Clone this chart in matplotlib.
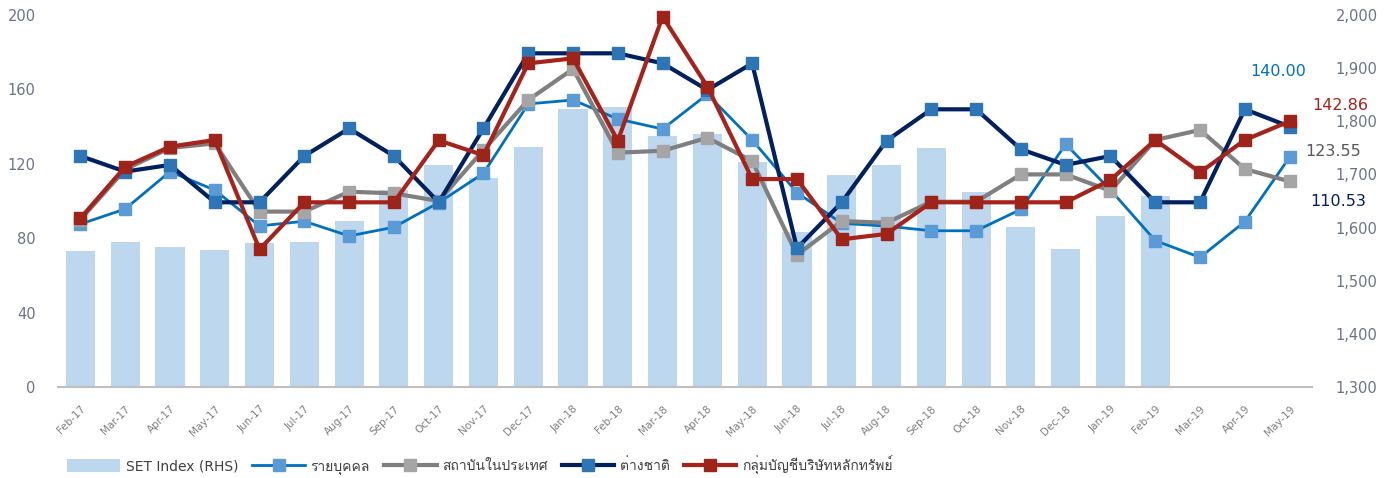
import numpy as np
import matplotlib
matplotlib.use("Agg")
import matplotlib.pyplot as plt
from matplotlib import font_manager
from matplotlib.ft2font import FT2Font

# Data
months = ["Feb-17", "Mar-17", "Apr-17", "May-17", "Jun-17", "Jul-17", "Aug-17",
          "Sep-17", "Oct-17", "Nov-17", "Dec-17", "Jan-18", "Feb-18", "Mar-18",
          "Apr-18", "May-18", "Jun-18", "Jul-18", "Aug-18", "Sep-18", "Oct-18",
          "Nov-18", "Dec-18", "Jan-19", "Feb-19", "Mar-19", "Apr-19", "May-19"]

set_index = [1556, 1572, 1563, 1558, 1571, 1573, 1613, 1670, 1718, 1694,
             1751, 1824, 1827, 1773, 1776, 1723, 1592, 1699, 1718, 1750,
             1666, 1601, 1560, 1621, 1660, np.nan, np.nan, np.nan]

individual = [87.6, 95.7, 115.8, 105.9, 86.6, 89.1, 81.2, 85.9, 99.1, 114.9,
              152.2, 154.3, 144.1, 138.7, 157.4, 132.8, 104.5, 88.0, 86.5, 84.0,
              84.0, 95.5, 130.5, 106.0, 78.7, 69.7, 88.9, 123.55]

institution = [90.0, 117.0, 128.5, 131.0, 94.3, 94.3, 105.0, 104.1, 100.0, 127.4,
               154.3, 171.0, 126.0, 127.0, 134.0, 121.5, 71.0, 89.2, 88.3, 99.6,
               99.6, 114.3, 114.3, 105.5, 132.8, 138.2, 117.2, 110.53]

foreign = [124.2, 115.8, 119.4, 99.3, 99.3, 124.2, 139.0, 124.2, 99.3, 139.0,
           179.4, 179.4, 179.4, 174.0, 159.7, 174.0, 74.6, 99.3, 132.4, 149.3,
           149.3, 127.8, 119.4, 124.2, 99.3, 99.3, 149.3, 140.0]

proprietary = [90.7, 118.4, 129.2, 132.8, 74.0, 99.3, 99.3, 99.3, 132.6, 124.6,
               174.0, 176.7, 132.4, 199.1, 161.5, 111.8, 111.8, 79.4, 82.3, 99.3,
               99.3, 99.3, 99.3, 111.3, 132.8, 115.4, 132.8, 142.86]

series_names = ["รายบุคคล", "สถาบันในประเทศ", "ต่างชาติ", "กลุ่มบัญชีบริษัทหลักทรัพย์"]
end_labels = ["140.00", "142.86", "123.55", "110.53"]


def find_thai_font():
    # look for any installed font that can draw Thai
    for fe in font_manager.fontManager.ttflist:
        try:
            if ord("ก") in FT2Font(fe.fname).get_charmap():
                return fe.name
        except Exception:
            pass
    return None


thai = find_thai_font()
families = ["DejaVu Sans"] + ([thai] if thai else [])
plt.rcParams["font.family"] = families

tick_color = "#6B7387"

fig = plt.figure(figsize=(13.94, 4.78), dpi=100)
ax = fig.add_axes([58 / 1394, 1 - 387 / 478, (1312 - 58) / 1394, 372 / 478])
ax2 = ax.twinx()

x = np.arange(len(months))

# bars on the right axis
ax2.bar(x, np.array(set_index) - 1300, bottom=1300, width=0.65, color="#BDD7EE",
        label="SET Index (RHS)", zorder=1)
ax2.set_ylim(1300, 2000)
ax2.set_yticks(np.arange(1300, 2001, 100))
ax2.set_yticklabels([f"{v:,}" for v in range(1300, 2001, 100)])

# lines on the left axis, drawn above the bars
ax.set_zorder(ax2.get_zorder() + 1)
ax.patch.set_visible(False)

styles = [
    (individual, "#0070C0", "#5B9BD5", 2.0),
    (institution, "#7F7F7F", "#A5A5A5", 3.0),
    (foreign, "#002060", "#2E75B6", 3.0),
    (proprietary, "#A5231B", "#9E2318", 3.0),
]
for (vals, lc, mc, lw), name in zip(styles, series_names):
    ax.plot(x, vals, color=lc, lw=lw, marker="s", markersize=8, clip_on=False,
            markerfacecolor=mc, markeredgecolor=mc, label=name)

ax.set_ylim(0, 200)
ax.set_yticks(np.arange(0, 201, 40))
ax.set_xlim(-0.5, 27.5)
ax.set_xticks(x)
ax.set_xticklabels(months, rotation=45, ha="right", rotation_mode="anchor")

for a in (ax, ax2):
    for s in a.spines.values():
        s.set_visible(False)
    a.tick_params(length=0, labelsize=10.5, labelcolor=tick_color)
ax.tick_params(axis="y", pad=16)
ax2.tick_params(axis="y", pad=17)
ax.tick_params(axis="x", pad=12, labelsize=7.5, labelcolor="#7F7F7F")
ax.spines["bottom"].set_visible(True)
ax.spines["bottom"].set_color("#BFBFBF")
ax.spines["bottom"].set_linewidth(1.5)

# end-of-series value labels
label_colors = ["#0070C0", "#A5231B", "#595959", "#002060"]
label_pos = [(1250, 72), (1312, 105), (1305, 152), (1310, 202)]
for txt, c, (px, py) in zip(end_labels, label_colors, label_pos):
    fig.text(px / 1394, 1 - py / 478, txt, color=c, fontsize=11.5,
             ha="left", va="center")

# legend
h2, l2 = ax2.get_legend_handles_labels()
h1, l1 = ax.get_legend_handles_labels()
fig.legend(h2 + h1, l2 + l1, loc="center left", bbox_to_anchor=(55 / 1394, 1 - 465 / 478),
           ncol=5, frameon=False, fontsize=10, handlelength=3.8, handleheight=1.1,
           handletextpad=0.4, columnspacing=1.0, labelcolor="#404040")

fig.savefig("out.png", dpi=100)
